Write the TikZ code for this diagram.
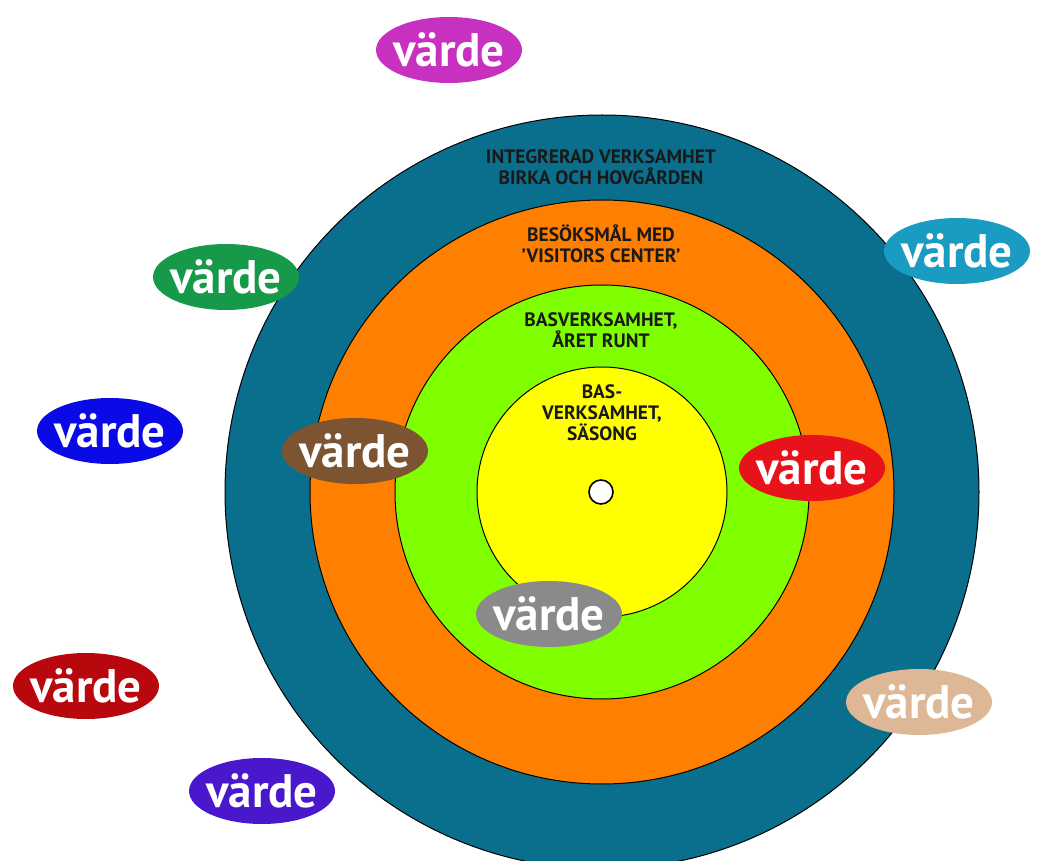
\documentclass[tikz,border=0pt]{standalone}
\usepackage{fontspec}
\setmainfont{PT Sans}
\usetikzlibrary{shapes.geometric}
\definecolor{RingTeal}{RGB}{10,111,141}
\definecolor{RingOrange}{RGB}{255,128,0}
\definecolor{RingGreen}{RGB}{128,255,0}
\definecolor{RingYellow}{RGB}{255,255,0}
\definecolor{ValMagenta}{RGB}{200,48,192}
\definecolor{ValCyan}{RGB}{26,156,194}
\definecolor{ValGreen}{RGB}{22,154,74}
\definecolor{ValBlue}{RGB}{10,10,230}
\definecolor{ValBrown}{RGB}{124,84,50}
\definecolor{ValRed}{RGB}{232,18,26}
\definecolor{ValGrey}{RGB}{138,138,138}
\definecolor{ValDarkRed}{RGB}{184,8,14}
\definecolor{ValTan}{RGB}{222,184,150}
\definecolor{ValPurple}{RGB}{74,24,204}

\begin{document}
\begin{tikzpicture}[x=0.5pt,y=0.5pt,yscale=-1,xscale=1,
		ring/.style={draw=black, line width=0.5pt},
		ringlabel/.style={align=center, inner sep=0pt, text=black!90, font=\bfseries\fontsize{9.7}{10.5}\selectfont},
		value/.style={ellipse, fill=#1, minimum width=73pt, minimum height=33pt, inner xsep=-3.5pt, inner ysep=0pt, text=white, font=\bfseries\fontsize{23.5}{25}\selectfont}]
		% Set diagram frame to the size of the picture
		\useasboundingbox (0,0) rectangle (1051,861);
		\clip (0,0) rectangle (1051,861);

		% Draw the concentric rings from the outside in
		\draw[ring, fill=RingTeal] (602,492) circle (377);
		\draw[ring, fill=RingOrange] (602,492) circle (292);
		\draw[ring, fill=RingGreen] (602,492) circle (207);
		\draw[ring, fill=RingYellow] (602,492) circle (125);

		% The small white centre
		\draw[black, line width=0.8pt, fill=white] (601,492) circle (12);

		% Labels of the rings
		\node[ringlabel] (lblOuter) at (601,167) {INTEGRERAD VERKSAMHET\\BIRKA OCH HOVGÅRDEN};
		\node[ringlabel] (lblVisit) at (601,244) {BESÖKSMÅL MED\\’VISITORS CENTER’};
		\node[ringlabel] (lblYear) at (601,330) {BASVERKSAMHET,\\ÅRET RUNT};
		\node[ringlabel] (lblSeason) at (602,413) {BAS-\\VERKSAMHET,\\SÄSONG};

		% The value ovals
		\node[value=ValMagenta] (valMagenta) at (449,50) {värde};
		\node[value=ValCyan] (valCyan) at (957,251) {värde};
		\node[value=ValGreen] (valGreen) at (226,277) {värde};
		\node[value=ValBlue] (valBlue) at (110,431) {värde};
		\node[value=ValBrown] (valBrown) at (355,451) {värde};
		\node[value=ValRed] (valRed) at (812,468) {värde};
		\node[value=ValGrey] (valGrey) at (549,614) {värde};
		\node[value=ValDarkRed] (valDarkRed) at (86,686) {värde};
		\node[value=ValTan] (valTan) at (919,702) {värde};
		\node[value=ValPurple] (valPurple) at (262,791) {värde};
	\end{tikzpicture}
\end{document}
